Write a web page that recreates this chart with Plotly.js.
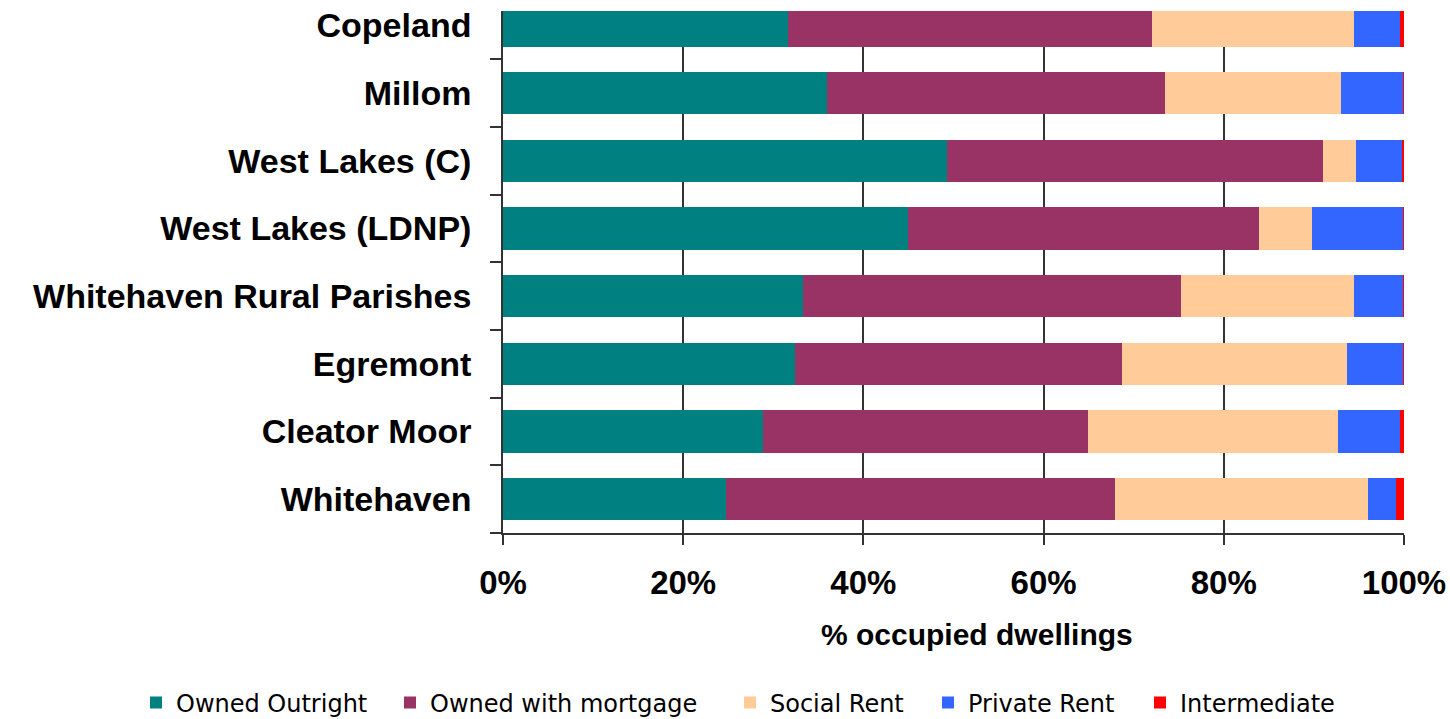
<!DOCTYPE html>
<html>
<head>
<meta charset="utf-8">
<script src="https://cdn.plot.ly/plotly-3.0.1.min.js"></script>
<style>html,body{margin:0;padding:0;background:#fff;}#chart{width:1450px;height:719px;}</style>
</head>
<body>
<div id="chart"></div>
<script>
// Areas, listed bottom to top
const areas = ['Whitehaven', 'Cleator Moor', 'Egremont', 'Whitehaven Rural Parishes',
               'West Lakes (LDNP)', 'West Lakes (C)', 'Millom', 'Copeland'];
// % of occupied dwellings by tenure (same order as areas)
const ownedOutright  = [24.8, 28.9, 32.4, 33.3, 45.0, 49.3, 36.0, 31.6];
const ownedMortgage  = [43.1, 36.0, 36.3, 41.9, 38.9, 41.7, 37.5, 40.4];
const socialRent     = [28.1, 27.8, 25.0, 19.2, 5.9, 3.7, 19.5, 22.4];
const privateRent    = [3.1, 6.9, 6.2, 5.5, 10.1, 5.05, 6.9, 5.16];
const intermediate   = [0.9, 0.4, 0.1, 0.1, 0.1, 0.25, 0.1, 0.44];
const xTicks = [0, 20, 40, 60, 80, 100];

const series = [
  {name: 'Owned Outright', x: ownedOutright, color: '#008080'},
  {name: 'Owned with mortgage', x: ownedMortgage, color: '#993366'},
  {name: 'Social Rent', x: socialRent, color: '#FFCC99'},
  {name: 'Private Rent', x: privateRent, color: '#3366FF'},
  {name: 'Intermediate', x: intermediate, color: '#FF0000'}
];
// left edge (px) of each legend entry along the bottom
const legendLeft = [136, 390, 730, 928, 1140];

const legendIds = ['legend', 'legend2', 'legend3', 'legend4', 'legend5'];

const data = series.map((s, i) => ({
  type: 'bar',
  orientation: 'h',
  name: s.name,
  x: s.x,
  y: areas,
  legend: legendIds[i],
  marker: {color: s.color, line: {width: 0}},
  hoverinfo: 'x+y+name'
}));

const L = 503, R = 46, T = 11, B = 186;
const plotW = 1450 - L - R, plotH = 719 - T - B;
const bottomPx = T + plotH;

const layout = {
  width: 1450, height: 719,
  margin: {l: L, r: R, t: T, b: B, pad: 0},
  paper_bgcolor: '#ffffff',
  plot_bgcolor: '#ffffff',
  barmode: 'stack',
  bargap: 0.375,
  showlegend: true,
  xaxis: {
    range: [0, 100],
    tickvals: xTicks,
    ticktext: xTicks.map(v => v + '%'),
    ticks: 'outside', ticklen: 10, tickwidth: 1.5, tickcolor: '#333',
    showgrid: true, gridcolor: '#333', gridwidth: 1.5,
    showline: true, linecolor: '#333', linewidth: 1.5,
    zeroline: false,
    ticklabelstandoff: 10,
    tickfont: {family: 'Liberation Sans', size: 33, color: '#000', weight: 'bold'},
    fixedrange: true
  },
  yaxis: {
    type: 'category',
    categoryorder: 'array', categoryarray: areas,
    range: [-0.5, -0.5 + plotH / 67.66],
    tickson: 'boundaries',
    ticks: 'outside', ticklen: 11, tickwidth: 1.5, tickcolor: '#333',
    showgrid: false,
    showline: true, linecolor: '#333', linewidth: 1.5,
    ticklabelstandoff: 23,
    tickfont: {family: 'Liberation Sans', size: 34, color: '#000', weight: 'bold'},
    fixedrange: true
  },
  annotations: [{
    text: '% occupied dwellings',
    xref: 'paper', yref: 'paper',
    x: (977 - L) / plotW, xanchor: 'center',
    y: -(634 - bottomPx) / plotH, yanchor: 'middle',
    showarrow: false,
    font: {family: 'Liberation Sans', size: 30, color: '#000', weight: 'bold'}
  }]
};

legendIds.forEach((id, i) => {
  layout[id] = {
    orientation: 'h',
    xref: 'container', yref: 'container',
    x: legendLeft[i] / 1450, xanchor: 'left',
    y: 1 - 703 / 719, yanchor: 'middle',
    font: {family: 'DejaVu Sans', size: 24, color: '#000'},
    itemwidth: 30,
    itemclick: false,
    bgcolor: 'rgba(0,0,0,0)',
    borderwidth: 0
  };
});

Plotly.newPlot('chart', data, layout, {displayModeBar: false});
</script>
</body>
</html>
